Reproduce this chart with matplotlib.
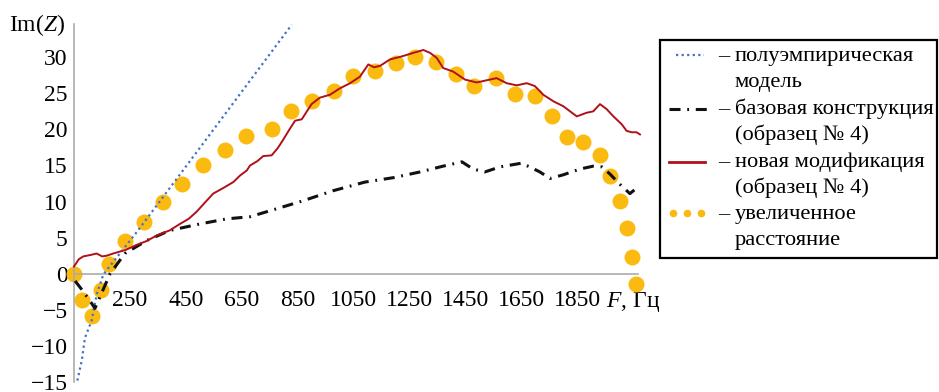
import matplotlib
matplotlib.use('Agg')
import matplotlib.pyplot as plt
from matplotlib.lines import Line2D
from matplotlib.patches import Rectangle

plt.rcParams['font.family'] = ['Liberation Serif', 'DejaVu Serif']
plt.rcParams['mathtext.fontset'] = 'custom'
plt.rcParams['mathtext.rm'] = 'Liberation Serif'
plt.rcParams['mathtext.it'] = 'Liberation Serif:italic'
plt.rcParams['axes.unicode_minus'] = True

# ---------------- data ----------------
model_f = [62, 78, 89, 113, 131, 155, 275, 488, 829]
model_y = [-14.8, -12.0, -8.9, -6.5, -2.9, -0.1, 5.8, 16.8, 34.5]

base_f = [54, 78, 113, 125, 179, 232, 310, 393, 501, 596, 680, 775, 869, 977, 1091,
          1191, 1288, 1370, 1438, 1478, 1520, 1574, 1649, 1681, 1717, 1753, 1800,
          1860, 1907, 1939, 1968, 2003, 2039, 2064]
base_y = [-1.0, -2.2, -4.1, -4.8, 0.0, 2.8, 4.6, 6.0, 6.9, 7.6, 7.9, 9.0, 10.1, 11.5, 12.7,
          13.3, 14.1, 14.9, 15.5, 14.5, 14.1, 14.8, 15.3, 14.8, 14.1, 13.2, 13.7,
          14.5, 14.9, 14.8, 13.8, 12.4, 11.1, 11.9]

new_f = [50, 67, 83, 109, 131, 151, 167, 190, 235, 274, 308, 346, 392, 429, 460, 489,
         517, 548, 585, 620, 644, 668, 680, 706, 727, 757, 779, 799, 821, 841, 865,
         900, 930, 966, 1002, 1038, 1073, 1103, 1124, 1145, 1181, 1222, 1264, 1300,
         1324, 1348, 1371, 1407, 1449, 1491, 1538, 1562, 1598, 1634, 1670, 1699,
         1729, 1765, 1801, 1849, 1884, 1908, 1932, 1956, 1980, 2010, 2027, 2045,
         2063, 2075]
new_y = [1.0, 2.0, 2.4, 2.6, 2.8, 2.4, 2.5, 2.8, 3.3, 4.0, 4.5, 5.3, 6.0, 6.9, 7.6, 8.6,
         9.8, 11.1, 11.9, 12.7, 13.6, 14.3, 15.0, 15.6, 16.3, 16.4, 17.4, 18.6, 20.0,
         21.2, 21.4, 23.5, 24.4, 24.8, 25.7, 26.4, 27.3, 29.0, 28.6, 28.8, 29.7, 30.1,
         30.6, 31.0, 30.6, 29.9, 28.5, 28.0, 26.9, 26.5, 26.9, 27.1, 26.4, 26.1, 26.4,
         26.0, 24.8, 23.9, 23.2, 21.8, 22.3, 22.5, 23.5, 22.8, 21.8, 20.7, 19.8, 19.6,
         19.6, 19.3]

dist_f = [50, 79, 114, 147, 175, 232, 300, 368, 436, 512, 590, 665, 758, 826, 902,
          980, 1048, 1127, 1202, 1270, 1345, 1417, 1481, 1560, 1628, 1699, 1760, 1814,
          1871, 1932, 1968, 2004, 2029, 2046, 2061]
dist_y = [0.0, -3.7, -5.8, -2.3, 1.4, 4.5, 7.2, 9.9, 12.4, 15.1, 17.2, 19.1, 20.0,
          22.6, 24.0, 25.3, 27.4, 28.1, 29.2, 30.0, 29.3, 27.7, 26.0, 27.1, 24.9, 24.6,
          21.8, 19.0, 18.2, 16.4, 13.5, 10.1, 6.4, 2.3, -1.4]

x_ticks = [250, 450, 650, 850, 1050, 1250, 1450, 1650, 1850]
x_unit_tick = 2050
y_ticks = [-15, -10, -5, 0, 5, 10, 15, 20, 25, 30]

legend_lines = [
    ['полуэмпирическая', 'модель'],
    ['базовая конструкция', '(образец № 4)'],
    ['новая модификация', '(образец № 4)'],
    ['увеличенное', 'расстояние'],
]

# ---------------- styles ----------------
C_BLUE = '#4472C4'
C_BLACK = '#111111'
C_RED = '#B0101A'
C_DOT = '#FBBA10'
C_AXIS = '#ABABAB'
FS = 17
LFS = 16.2

W, H = 939, 392
fig = plt.figure(figsize=(W / 100, H / 100), dpi=100)


def fx(px):
    return px / W


def fy(py):
    return 1 - py / H


ax = fig.add_axes([fx(74), fy(382), fx(638) - fx(74), fy(24) - fy(382)])
ax.set_xlim(50, 2068)
ax.set_ylim(-15, 34.6)

dash_dot = (0, (3.6, 2.2, 0.6, 2.2))

ax.plot(dist_f, dist_y, linestyle='none', marker='o', markersize=11.5,
        color=C_DOT, markeredgewidth=0, clip_on=False, zorder=2)
ax.plot(model_f, model_y, linestyle=(0, (1, 1.5)), color=C_BLUE, lw=1.6,
        clip_on=False, zorder=3)
ax.plot(base_f, base_y, linestyle=dash_dot, color=C_BLACK, lw=2.2,
        clip_on=False, zorder=4)
ax.plot(new_f, new_y, linestyle='-', color=C_RED, lw=1.4, clip_on=False, zorder=5)

for s in ['top', 'right']:
    ax.spines[s].set_visible(False)
ax.spines['bottom'].set_position(('data', 0))
ax.spines['bottom'].set_color(C_AXIS)
ax.spines['left'].set_color(C_AXIS)
ax.spines['bottom'].set_linewidth(1.2)
ax.spines['left'].set_linewidth(1.2)

ax.set_xticks(x_ticks + [x_unit_tick])
ax.set_xticklabels([str(v) for v in x_ticks] + ['$F$, Гц'])
ax.set_yticks(y_ticks)
ax.set_yticklabels([str(v).replace('-', '\u2212') for v in y_ticks])
ax.tick_params(axis='both', length=0, labelsize=FS)
ax.tick_params(axis='x', pad=11.5)
ax.tick_params(axis='y', pad=4.5)
ax.patch.set_alpha(0)

fig.text(fx(9), fy(31), 'Im($Z$)', fontsize=FS, ha='left', va='baseline')

# ---------------- legend ----------------
box = Rectangle((fx(660), fy(258)), fx(937) - fx(660), fy(40) - fy(258),
                transform=fig.transFigure, fill=False, edgecolor='black', lw=1.6)
fig.add_artist(box)

baselines = [61, 87, 114, 140, 167, 193, 219, 245]
handle_y = [55, 109, 162, 213]
for i, (l1, l2) in enumerate(legend_lines):
    fig.text(fx(718), fy(baselines[2 * i]), '–', fontsize=LFS, ha='left', va='baseline')
    fig.text(fx(735), fy(baselines[2 * i]), l1, fontsize=LFS, ha='left', va='baseline')
    fig.text(fx(735), fy(baselines[2 * i + 1]), l2, fontsize=LFS, ha='left', va='baseline')

hy = handle_y
fig.add_artist(Line2D([fx(676), fx(704)], [fy(hy[0])] * 2, transform=fig.transFigure,
                      linestyle=(0, (1, 1.5)), color=C_BLUE, lw=1.6))
fig.add_artist(Line2D([fx(669), fx(708)], [fy(hy[1])] * 2, transform=fig.transFigure,
                      linestyle=(0, (3.6, 2.2, 0.6, 2.2)), color=C_BLACK, lw=2.2))
fig.add_artist(Line2D([fx(669), fx(705)], [fy(hy[2])] * 2, transform=fig.transFigure,
                      linestyle='-', color=C_RED, lw=2.0))
fig.add_artist(Line2D([fx(673), fx(687), fx(701)], [fy(hy[3])] * 3, transform=fig.transFigure,
                      linestyle='none', marker='o', markersize=5.5, color=C_DOT,
                      markeredgewidth=0))

fig.savefig('out.png', dpi=100)
